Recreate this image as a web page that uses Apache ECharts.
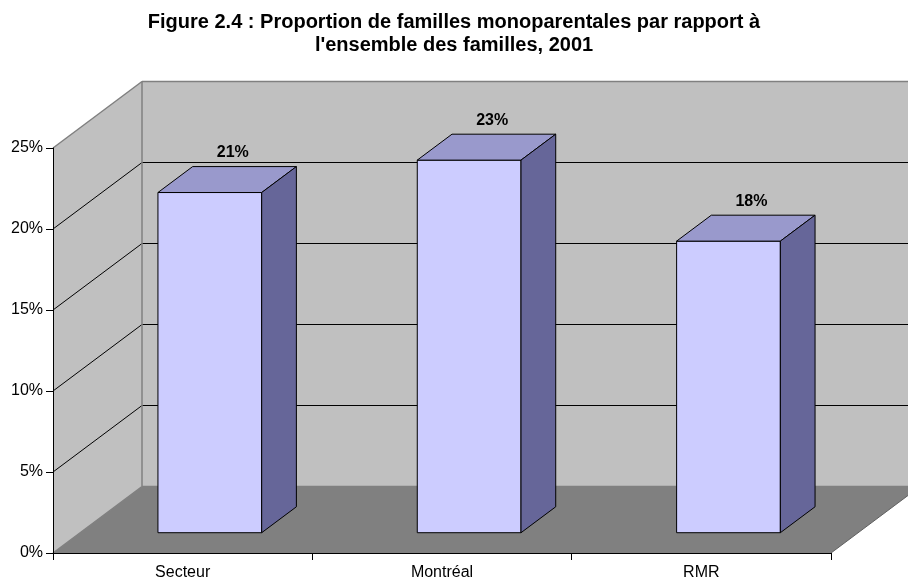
<!DOCTYPE html>
<html>
<head>
<meta charset="utf-8">
<script src="https://cdn.jsdelivr.net/npm/echarts@6/dist/echarts.min.js"></script>
<style>
  html, body { margin: 0; padding: 0; background: #fff; }
  #chart { width: 908px; height: 581px; }
</style>
</head>
<body>
<div id="chart"></div>
<script>
const categories = ['Secteur', 'Montréal', 'RMR'];
const values = [21, 23, 18];
const valueLabels = ['21%', '23%', '18%'];
const yTicks = [0, 5, 10, 15, 20, 25];

const FONT = "'Liberation Sans', Arial, sans-serif";
// 3D depth of the box (pixels), bar front offset and bar depth as fractions of it
const DX = 89;
const DY = -66.5;
const BAR_FRONT = 0.305;
const BAR_DEPTH = 0.39;

const chart = echarts.init(document.getElementById('chart'), null, { renderer: 'canvas' });

// walls, floor and the wall gridlines
const renderBox = (params, api) => {
  const cs = params.coordSys;
  const x0 = cs.x;
  const x1 = cs.x + cs.width;
  const yOf = v => api.coord([0, v])[1];
  const y0 = yOf(yTicks[0]);
  const yTop = yOf(yTicks[yTicks.length - 1]);
  const children = [];
  // back wall
  children.push({
    type: 'polygon',
    shape: { points: [[x0 + DX, yTop + DY], [x1 + DX, yTop + DY], [x1 + DX, y0 + DY], [x0 + DX, y0 + DY]] },
    style: { fill: '#c0c0c0' },
  });
  // left wall
  children.push({
    type: 'polygon',
    shape: { points: [[x0, y0], [x0 + DX, y0 + DY], [x0 + DX, yTop + DY], [x0, yTop]] },
    style: { fill: '#c0c0c0' },
  });
  // floor
  children.push({
    type: 'polygon',
    shape: { points: [[x0, y0], [x1, y0], [x1 + DX, y0 + DY], [x0 + DX, y0 + DY]] },
    style: { fill: '#808080' },
  });
  yTicks.forEach((v, i) => {
    const y = yOf(v);
    const edge = i === 0 || i === yTicks.length - 1;
    const stroke = edge ? '#808080' : '#000';
    const lw = edge ? 1.5 : 1;
    children.push({
      type: 'line',
      shape: { x1: x0, y1: y, x2: x0 + DX, y2: y + DY },
      style: { stroke: stroke, lineWidth: lw },
    });
    children.push({
      type: 'line',
      shape: { x1: x0 + DX, y1: y + DY, x2: x1 + DX + 20, y2: y + DY },
      style: { stroke: stroke, lineWidth: lw },
    });
  });
  // wall corner and floor right edge
  children.push({
    type: 'line',
    shape: { x1: x0 + DX, y1: yTop + DY, x2: x0 + DX, y2: y0 + DY },
    style: { stroke: '#808080', lineWidth: 1.5 },
  });
  children.push({
    type: 'line',
    shape: { x1: x1, y1: y0, x2: x1 + DX, y2: y0 + DY },
    style: { stroke: '#606060', lineWidth: 1 },
  });
  return { type: 'group', children: children };
};

const renderBar = (params, api) => {
  const idx = api.value(0);
  const top = api.coord([idx, api.value(1)]);
  const base = api.coord([idx, 0]);
  const bw = api.size([1, 0])[0] * 0.4;
  const fx = DX * BAR_FRONT;
  const fy = DY * BAR_FRONT;
  const bx = DX * BAR_DEPTH;
  const by = DY * BAR_DEPTH;
  const L = top[0] - bw / 2 + fx;
  const R = top[0] + bw / 2 + fx;
  const T = top[1] + fy;
  const B = base[1] + fy;
  const edge = { stroke: '#000', lineWidth: 1 };
  return {
    type: 'group',
    children: [
      {
        type: 'polygon',
        shape: { points: [[L, B], [R, B], [R, T], [L, T]] },
        style: Object.assign({ fill: '#ccccff' }, edge),
      },
      {
        type: 'polygon',
        shape: { points: [[L, T], [R, T], [R + bx, T + by], [L + bx, T + by]] },
        style: Object.assign({ fill: '#9999cc' }, edge),
      },
      {
        type: 'polygon',
        shape: { points: [[R, T], [R + bx, T + by], [R + bx, B + by], [R, B]] },
        style: Object.assign({ fill: '#666699' }, edge),
      },
      {
        type: 'text',
        style: {
          x: top[0] + fx + 23,
          y: T - 40,
          text: valueLabels[params.dataIndex],
          fill: '#000',
          font: 'bold 16px ' + FONT,
          align: 'center',
          verticalAlign: 'middle',
        },
      },
    ],
  };
};

const option = {
  animation: false,
  backgroundColor: '#fff',
  textStyle: { fontFamily: FONT },
  title: {
    text: 'Figure 2.4 : Proportion de familles monoparentales par rapport à\nl\'ensemble des familles, 2001',
    left: 'center',
    top: 6,
    textStyle: {
      fontFamily: FONT,
      fontSize: 20,
      fontWeight: 'bold',
      lineHeight: 23,
      color: '#000',
      align: 'center',
    },
  },
  grid: {
    left: 53,
    right: 77,
    top: 148,
    bottom: 28,
  },
  xAxis: {
    type: 'category',
    data: categories,
    z: 10,
    boundaryGap: true,
    axisLine: { lineStyle: { color: '#000', width: 1 } },
    axisTick: { show: true, length: 7, lineStyle: { color: '#000' } },
    axisLabel: { color: '#000', fontSize: 16, fontFamily: FONT, margin: 12 },
    splitLine: { show: false },
  },
  yAxis: {
    type: 'value',
    min: 0,
    max: 25,
    interval: 5,
    z: 10,
    axisLine: { show: true, lineStyle: { color: '#000', width: 1 } },
    axisTick: { show: true, length: 7, lineStyle: { color: '#000' } },
    axisLabel: { color: '#000', fontSize: 16, fontFamily: FONT, margin: 10, formatter: '{value}%' },
    splitLine: { show: false },
  },
  series: [
    {
      type: 'custom',
      z: 1,
      renderItem: renderBox,
      data: [[0, 0]],
      silent: true,
    },
    {
      type: 'custom',
      z: 2,
      renderItem: renderBar,
      encode: { x: 0, y: 1 },
      data: values.map((v, i) => [i, v]),
    },
  ],
};

chart.setOption(option);
window.addEventListener('resize', chart.resize);
</script>
</body>
</html>
